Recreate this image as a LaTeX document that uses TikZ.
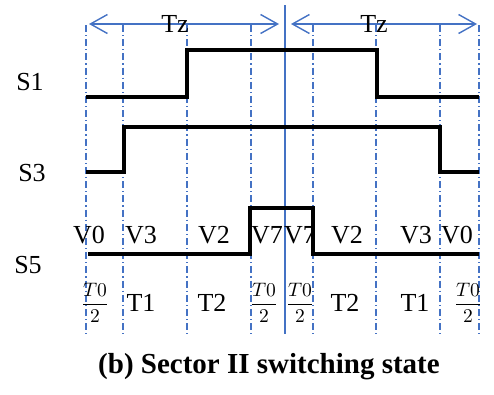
\documentclass[tikz,border=0pt]{standalone}
\usepackage{amsmath}
\usepackage{graphicx}
\usepackage{fontspec}
\setmainfont{Liberation Serif}
\usetikzlibrary{arrows.meta}
\definecolor{gridblue}{RGB}{68,114,196}
\tikzset{
  grid/.style={gridblue, line width=1.2pt,
               dash pattern=on 7pt off 3pt on 1.2pt off 3pt},
  wave/.style={line width=3.3pt, line join=miter},
  span/.style={gridblue, line width=1.4pt,
               {Straight Barb[length=17pt, width=19pt]}-{Straight Barb[length=17pt, width=19pt]}},
  lbl/.style={inner sep=0pt, font=\fontsize{26}{29}\selectfont},
  frc/.style={inner sep=0pt, font=\normalsize},
}
\newcommand{\halfzero}{\scalebox{1.95}{$\dfrac{T0}{2}$}}

\begin{document}
\begin{tikzpicture}[x=1pt, y=-1pt]

  \useasboundingbox (0,0) rectangle (494,394);

  % time grid
  \foreach \n/\x in {0/86, 1/123, 2/187, 3/251, 4/313, 5/376, 6/440, 7/479} {
    \coordinate (top\n) at (\x,25);
    \coordinate (bot\n) at (\x,337);
    \draw[grid] (top\n) -- (bot\n);
  }
  \coordinate (midtop) at (285,5);
  \coordinate (midbot) at (285,334);
  \draw[gridblue, line width=1.4pt] (midtop) -- (midbot);

  % Tz spans
  \coordinate (la) at (89,24);
  \coordinate (lb) at (279,24);
  \coordinate (ra) at (291,24);
  \coordinate (rb) at (477,24);
  \draw[span] (la) -- (lb);
  \draw[span] (ra) -- (rb);
  \node[lbl] (tzl) at (175,24) {Tz};
  \node[lbl] (tzr) at (374,24) {Tz};

  % switching signals
  \node[lbl] (s1) at (30,82) {S1};
  \node[lbl] (s3) at (32,173) {S3};
  \node[lbl] (s5) at (28,265) {S5};

  \draw[wave] (86,97) -- (187,97) -- (187,50) -- (377,50) -- (377,97) -- (479,97);
  \draw[wave] (86,172) -- (124,172) -- (124,127) -- (440,127) -- (440,172) -- (479,172);
  \draw[wave] (88,254) -- (250,254) -- (250,208) -- (313,208) -- (313,254) -- (479,254);

  % vectors
  \foreach \x/\t [count=\i] in {89/V0, 141/V3, 214/V2, 267/V7, 300/V7, 347/V2, 416/V3, 457/V0}
    \node[lbl] (v\i) at (\x,235) {\t};

  % times
  \foreach \x [count=\i] in {95, 264, 300, 468}
    \node[frc] (h\i) at (\x,303) {\halfzero};
  \node[lbl] (ta) at (141,303) {T1};
  \node[lbl] (tb) at (212,303) {T2};
  \node[lbl] (tc) at (345,303) {T2};
  \node[lbl] (td) at (415,303) {T1};

  \node[lbl, anchor=base, font=\fontsize{29}{32}\selectfont\bfseries] (cap) at (269,373)
    {(b) Sector II switching state};

\end{tikzpicture}
\end{document}
